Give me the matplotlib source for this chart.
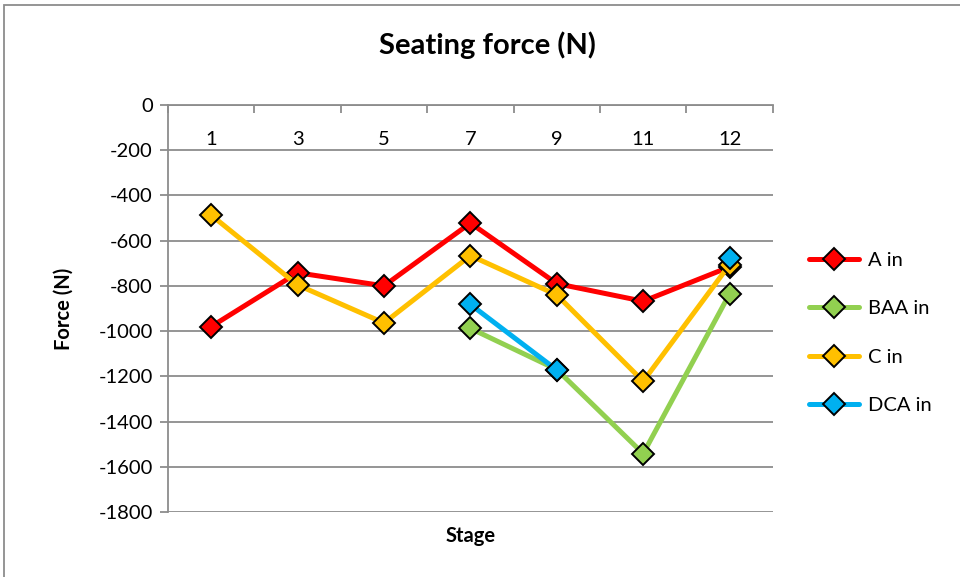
import numpy as np
import matplotlib.pyplot as plt
from matplotlib.patches import Rectangle

plt.rcParams['font.family'] = ['Lato', 'DejaVu Sans']
plt.rcParams['axes.unicode_minus'] = False

stages = ['1', '3', '5', '7', '9', '11', '12']
a_in = [-980, -742, -800, -522, -790, -868, -716]
baa_in = [np.nan, np.nan, np.nan, -988, -1170, -1542, -835]
c_in = [-487, -796, -964, -666, -840, -1222, -706]
dca_in = [np.nan, np.nan, np.nan, -882, -1172, np.nan, -677]

series = [
    ('A in', a_in, '#FF0000'),
    ('BAA in', baa_in, '#92D050'),
    ('C in', c_in, '#FFC000'),
    ('DCA in', dca_in, '#00B0F0'),
]

grey = '#8C8C8C'

fig = plt.figure(figsize=(9.6, 5.77), dpi=100)
ax = fig.add_axes([0.175, 0.1127, 0.63, 0.7053])

x = np.arange(len(stages))
for name, vals, col in series:
    # missing stages stay as gaps in the line
    ax.plot(x, np.array(vals, dtype=float), color=col, lw=3.6, marker='D', ms=11.5,
            mfc=col, mec='black', mew=1.4, label=name, solid_capstyle='round')

ax.set_xlim(-0.5, len(stages) - 0.5)
ax.set_ylim(-1800, 0)
ax.set_yticks(np.arange(-1800, 1, 200))
ax.yaxis.grid(True, color=grey, lw=1.3)
ax.set_axisbelow(True)

# category axis sits on the zero line at the top
ax.set_xticks(x)
ax.set_xticklabels(stages)
ax.set_xticks(np.arange(-0.5, len(stages), 1), minor=True)
ax.tick_params(axis='x', which='major', top=True, bottom=False, labeltop=True,
               labelbottom=False, length=0, pad=-31, labelsize=14.5)
ax.tick_params(axis='x', which='minor', top=True, bottom=False, direction='in',
               length=6, width=1.3, color=grey)
ax.tick_params(axis='y', length=6, width=1.3, color=grey, labelsize=14.5, pad=5)

for side in ['right', 'bottom']:
    ax.spines[side].set_visible(False)
for side in ['left', 'top']:
    ax.spines[side].set_color(grey)
    ax.spines[side].set_linewidth(1.3)

ax.xaxis.set_label_position('bottom')
ax.set_xlabel('Stage', fontsize=14.5, fontweight='bold', labelpad=7)
ax.set_ylabel('Force (N)', fontsize=14.5, fontweight='bold', labelpad=18)
fig.suptitle('Seating force (N)', x=0.508, y=0.945, fontsize=21, fontweight='bold')

ax.legend(loc='center left', bbox_to_anchor=(1.03, 0.44), frameon=False,
          fontsize=14.5, handlelength=2.5, handletextpad=0.45, labelspacing=1.55,
          numpoints=1)

# chart border
fig.patches.append(Rectangle((4 / 960, -0.1), 1.2, 1 - 5 / 577 + 0.1,
                             transform=fig.transFigure, fill=False,
                             edgecolor=grey, lw=1.3))

fig.savefig('out.png', dpi=100)
